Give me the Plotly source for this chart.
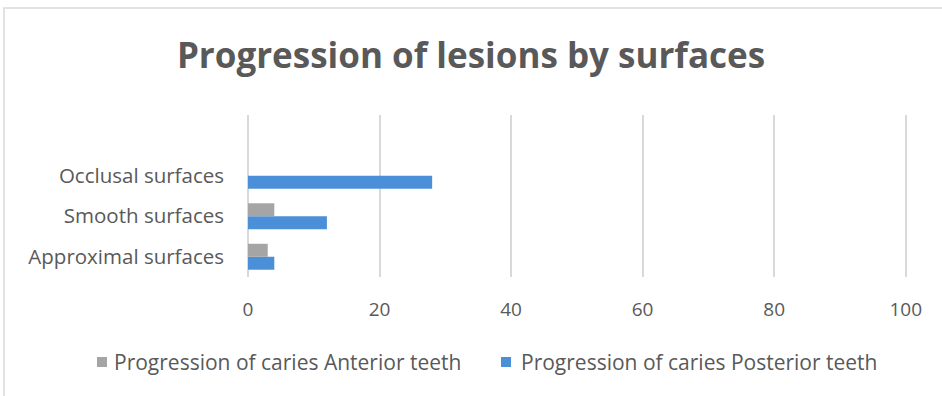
import plotly.graph_objects as go

categories = ["Approximal surfaces", "Smooth surfaces", "Occlusal surfaces"]
anterior = [3, 4, 0]
posterior = [4, 12, 28]
x_ticks = [0, 20, 40, 60, 80, 100]
series_names = ["Progression of caries Anterior teeth",
                "Progression of caries Posterior teeth"]
series_colors = ["#a5a5a5", "#4a8fd8"]

L, R, T, B, W, H = 247, 33, 115, 119, 942, 396
PW, PH = W - L - R, H - T - B


def px_x(p):
    return (p - L) / PW


def px_y(p):
    return (H - B - p) / PH


fig = go.Figure()
fig.add_trace(go.Bar(y=categories, x=posterior, orientation="h",
                     name=series_names[1],
                     marker=dict(color=series_colors[1], line=dict(width=0))))
fig.add_trace(go.Bar(y=categories, x=anterior, orientation="h",
                     name=series_names[0],
                     marker=dict(color=series_colors[0], line=dict(width=0))))

fig.update_layout(
    width=W, height=H,
    margin=dict(l=L, r=R, t=T, b=B),
    paper_bgcolor="white", plot_bgcolor="white",
    barmode="group", bargap=0.36, bargroupgap=0,
    font=dict(family="Open Sans", color="#595959"),
    title=dict(text="<b>Progression of lesions by surfaces</b>",
               x=0.5, xanchor="center", y=0.86, yanchor="middle",
               font=dict(family="Open Sans", size=35, color="#595959")),
    xaxis=dict(range=[-0.15, 100.5], tickvals=x_ticks, showgrid=True,
               gridcolor="#d9d9d9", gridwidth=1.5, zeroline=True,
               zerolinecolor="#d9d9d9", zerolinewidth=1.5,
               showline=False, ticks="", ticklabelstandoff=19,
               tickfont=dict(size=19, color="#595959")),
    yaxis=dict(type="category", range=[-0.5, 3.5], showgrid=False,
               zeroline=False, showline=False, ticks="",
               ticklabelstandoff=22,
               tickfont=dict(size=20.5, color="#595959")),
    showlegend=False,
)

# chart border
fig.add_shape(type="rect", xref="paper", yref="paper",
              x0=px_x(4), x1=px_x(960), y0=px_y(420), y1=px_y(8),
              line=dict(color="#d9d9d9", width=1.5), fillcolor="rgba(0,0,0,0)",
              layer="below")

# legend (custom, single row)
legend_items = [(97, 112), (501, 519)]
for (sq_x, tx_x), name, color in zip(legend_items, series_names, series_colors):
    fig.add_shape(type="rect", xref="paper", yref="paper",
                  x0=px_x(sq_x), x1=px_x(sq_x + 10),
                  y0=px_y(367), y1=px_y(357),
                  line=dict(width=0), fillcolor=color)
    fig.add_annotation(text=name, xref="paper", yref="paper",
                       x=px_x(tx_x), y=px_y(362), xanchor="left",
                       yanchor="middle", showarrow=False,
                       font=dict(size=21, color="#595959"))

fig.write_html("out.html")
